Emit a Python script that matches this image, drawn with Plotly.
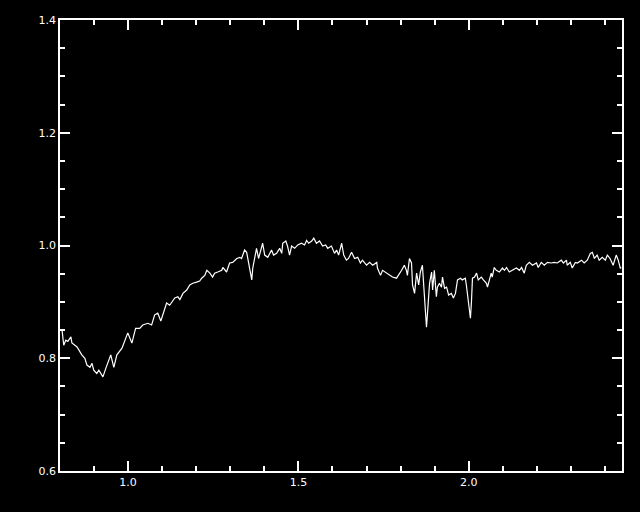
import plotly.graph_objects as go

wavelength = [
    0.806, 0.811, 0.817, 0.823, 0.832, 0.835, 0.850, 0.864, 0.873, 0.879,
    0.888, 0.894, 0.899, 0.908, 0.914, 0.926, 0.935, 0.949, 0.958, 0.967,
    0.982, 0.993, 0.999, 1.011, 1.022, 1.034, 1.043, 1.058, 1.069, 1.078,
    1.087, 1.096, 1.113, 1.122, 1.128, 1.137, 1.146, 1.152, 1.161, 1.172,
    1.181, 1.190, 1.201, 1.210, 1.216, 1.225, 1.231, 1.240, 1.248, 1.254,
    1.263, 1.275, 1.278, 1.289, 1.298, 1.307, 1.319, 1.328, 1.333, 1.342,
    1.348, 1.354, 1.360, 1.363, 1.366, 1.374, 1.377, 1.383, 1.392, 1.395,
    1.401, 1.410, 1.421, 1.427, 1.436, 1.445, 1.451, 1.454, 1.463, 1.468,
    1.474, 1.480, 1.489, 1.498, 1.509, 1.518, 1.524, 1.530, 1.539, 1.545,
    1.553, 1.562, 1.571, 1.580, 1.586, 1.597, 1.606, 1.612, 1.618, 1.627,
    1.633, 1.641, 1.647, 1.656, 1.665, 1.674, 1.682, 1.688, 1.700, 1.709,
    1.718, 1.730, 1.732, 1.741, 1.747, 1.759, 1.767, 1.776, 1.788, 1.794,
    1.803, 1.811, 1.817, 1.820, 1.826, 1.832, 1.835, 1.841, 1.847, 1.853,
    1.858, 1.864, 1.870, 1.876, 1.879, 1.885, 1.891, 1.894, 1.899, 1.905,
    1.908, 1.914, 1.920, 1.923, 1.929, 1.935, 1.941, 1.949, 1.955, 1.961,
    1.967, 1.976, 1.981, 1.990, 1.993, 1.999, 2.005, 2.008, 2.011, 2.017,
    2.023, 2.028, 2.037, 2.043, 2.052, 2.055, 2.061, 2.066, 2.069, 2.075,
    2.081, 2.090, 2.099, 2.105, 2.111, 2.119, 2.128, 2.140, 2.149, 2.155,
    2.163, 2.169, 2.178, 2.187, 2.199, 2.204, 2.213, 2.222, 2.231, 2.242,
    2.251, 2.260, 2.272, 2.278, 2.287, 2.289, 2.298, 2.304, 2.313, 2.319,
    2.331, 2.339, 2.348, 2.357, 2.363, 2.369, 2.377, 2.383, 2.392, 2.401,
    2.407, 2.415, 2.424, 2.433, 2.439, 2.445, 2.448,
]

flux = [
    0.850, 0.823, 0.832, 0.830, 0.838, 0.827, 0.820, 0.806, 0.800, 0.788,
    0.784, 0.791, 0.779, 0.773, 0.779, 0.767, 0.783, 0.806, 0.784, 0.806,
    0.818, 0.838, 0.845, 0.827, 0.853, 0.853, 0.859, 0.862, 0.859, 0.877,
    0.880, 0.866, 0.898, 0.894, 0.900, 0.907, 0.909, 0.904, 0.915, 0.921,
    0.930, 0.933, 0.935, 0.937, 0.942, 0.947, 0.956, 0.951, 0.944, 0.951,
    0.953, 0.956, 0.961, 0.953, 0.969, 0.970, 0.977, 0.979, 0.977, 0.992,
    0.988, 0.970, 0.947, 0.939, 0.960, 0.990, 0.995, 0.977, 0.999, 1.004,
    0.983, 0.979, 0.992, 0.983, 0.986, 0.995, 0.986, 1.004, 1.008, 0.999,
    0.983, 0.999, 0.995, 1.001, 1.004, 1.001, 1.009, 1.004, 1.008, 1.013,
    1.004, 1.008, 0.999, 1.001, 0.995, 0.999, 0.986, 0.992, 0.983, 1.004,
    0.983, 0.974, 0.977, 0.988, 0.977, 0.979, 0.969, 0.974, 0.965, 0.970,
    0.965, 0.970, 0.960, 0.947, 0.956, 0.951, 0.947, 0.944, 0.942, 0.947,
    0.956, 0.965, 0.956, 0.947, 0.977, 0.969, 0.930, 0.915, 0.951, 0.930,
    0.953, 0.965, 0.909, 0.855, 0.880, 0.933, 0.953, 0.921, 0.956, 0.909,
    0.926, 0.933, 0.926, 0.944, 0.924, 0.926, 0.912, 0.915, 0.907, 0.915,
    0.939, 0.942, 0.939, 0.942, 0.930, 0.894, 0.871, 0.900, 0.942, 0.944,
    0.951, 0.939, 0.944, 0.939, 0.933, 0.926, 0.942, 0.951, 0.944, 0.961,
    0.956, 0.953, 0.960, 0.956, 0.961, 0.953, 0.956, 0.960, 0.956, 0.961,
    0.951, 0.965, 0.970, 0.965, 0.969, 0.961, 0.970, 0.965, 0.970, 0.969,
    0.970, 0.969, 0.974, 0.969, 0.974, 0.965, 0.970, 0.960, 0.970, 0.969,
    0.974, 0.969, 0.974, 0.986, 0.988, 0.977, 0.983, 0.974, 0.979, 0.974,
    0.983, 0.977, 0.965, 0.983, 0.974, 0.960, 0.961,
]

x_range = [0.8, 2.45]
y_range = [0.6, 1.4]

fig = go.Figure()
fig.add_trace(go.Scatter(
    x=wavelength, y=flux, mode="lines",
    line=dict(color="white", width=1.2),
    showlegend=False, hoverinfo="skip",
))

axis_common = dict(
    showline=True, linecolor="white", linewidth=1.5,
    mirror="allticks", ticks="inside", ticklen=10, tickwidth=1.5,
    tickcolor="white", showgrid=False, zeroline=False,
    tickfont=dict(family="DejaVu Sans", size=11, color="white"),
)

fig.update_xaxes(
    range=x_range, tick0=1.0, dtick=0.5, tickformat=".1f",
    minor=dict(dtick=0.1, tick0=1.0, ticks="inside", ticklen=5,
               tickcolor="white", tickwidth=1.5, showgrid=False),
    **axis_common,
)
fig.update_yaxes(
    range=y_range, tick0=0.6, dtick=0.2, tickformat=".1f",
    minor=dict(dtick=0.05, tick0=0.6, ticks="inside", ticklen=5,
               tickcolor="white", tickwidth=1.5, showgrid=False),
    **axis_common,
)

fig.update_layout(
    width=640, height=512,
    paper_bgcolor="black", plot_bgcolor="black",
    margin=dict(l=60, r=18, t=20, b=41),
    showlegend=False,
)

fig.write_html(
    "out.html",
    config={"displayModeBar": False},
    post_script="document.body.style.margin='0';document.body.style.background='black';",
)
